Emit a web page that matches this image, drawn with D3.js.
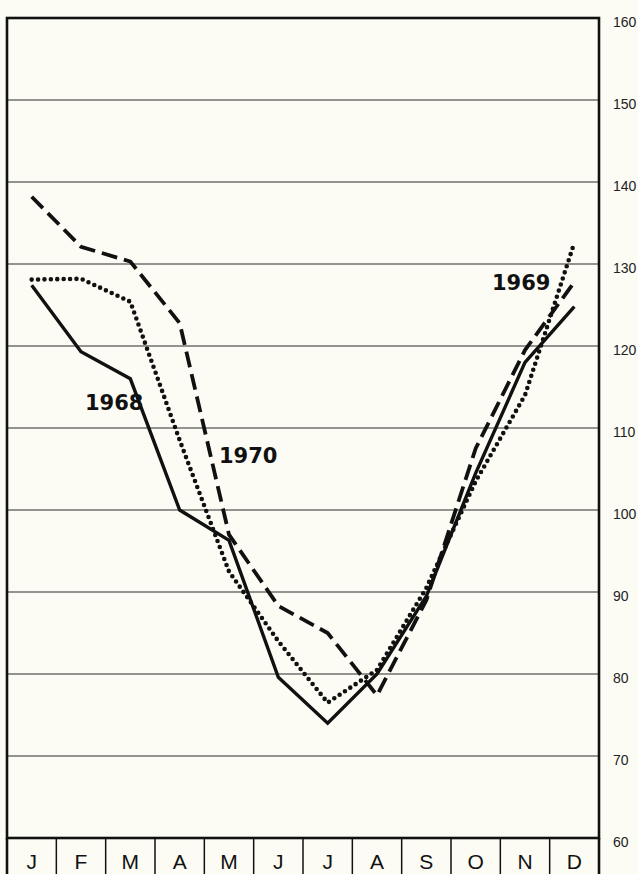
<!DOCTYPE html>
<html>
<head>
<meta charset="utf-8">
<script src="https://cdn.jsdelivr.net/npm/d3@7/dist/d3.min.js"></script>
<style>
  html, body { margin: 0; padding: 0; background: #fcfcf5; }
  svg { display: block; }
</style>
</head>
<body>
<div id="chart"></div>
<script>
const months = ['J', 'F', 'M', 'A', 'M', 'J', 'J', 'A', 'S', 'O', 'N', 'D'];
const yTicks = [60, 70, 80, 90, 100, 110, 120, 130, 140, 150, 160];
const v1968 = [127.4, 119.3, 116, 100, 96.3, 79.6, 74, 80, 89.5, 104.5, 118, 124.8];
const v1969 = [128.1, 128.2, 125.4, 108.5, 92.5, 84, 76.5, 80.5, 90.5, 103.5, 114, 132.6];
const v1970 = [138.2, 132.1, 130.3, 122.8, 97, 88.3, 85, 77.4, 89, 107.5, 119.5, 127.8];

const W = 638, H = 874;
const plotLeft = 7, plotRight = 599, plotTop = 18, plotBottom = 838;

const svg = d3.select('#chart')
  .append('svg')
  .attr('width', W)
  .attr('height', H);

svg.append('rect')
  .attr('width', W)
  .attr('height', H)
  .attr('fill', '#fcfcf5');

// month index scale (band) -> points at the band centres
const idx = d3.range(months.length);
const x = d3.scaleBand().domain(idx).range([plotLeft, plotRight]).padding(0);
const xc = i => x(i) + x.bandwidth() / 2;

const y = d3.scaleLinear().domain([60, 160]).range([plotBottom, plotTop]);

// gridlines
svg.append('g')
  .selectAll('line')
  .data(yTicks.filter(t => t > 60 && t < 160))
  .join('line')
  .attr('x1', plotLeft)
  .attr('x2', plotRight)
  .attr('y1', d => y(d))
  .attr('y2', d => y(d))
  .attr('stroke', '#2a2a2a')
  .attr('stroke-width', 1.1);

// right axis labels
const yAxis = d3.axisRight(y).tickValues(yTicks).tickSize(0).tickPadding(14);
const ga = svg.append('g')
  .attr('transform', `translate(${plotRight}, 4)`)
  .call(yAxis);
ga.select('.domain').remove();
ga.selectAll('text')
  .attr('font-family', 'Liberation Sans, Arial, sans-serif')
  .attr('font-size', 14)
  .attr('fill', '#222');

// frame
svg.append('rect')
  .attr('x', plotLeft)
  .attr('y', plotTop)
  .attr('width', plotRight - plotLeft)
  .attr('height', plotBottom - plotTop)
  .attr('fill', 'none')
  .attr('stroke', '#111')
  .attr('stroke-width', 2.6);

// month row
svg.append('g')
  .selectAll('line')
  .data(idx.concat([12]))
  .join('line')
  .attr('x1', d => d < 12 ? x(d) : plotRight)
  .attr('x2', d => d < 12 ? x(d) : plotRight)
  .attr('y1', plotBottom)
  .attr('y2', H)
  .attr('stroke', '#111')
  .attr('stroke-width', d => (d === 0 || d === 12) ? 2.6 : 1.5);

const xAxis = d3.axisBottom(x).tickFormat(i => months[i]).tickSize(0).tickPadding(0);
const gx = svg.append('g')
  .attr('transform', `translate(0, ${plotBottom + 13})`)
  .call(xAxis);
gx.select('.domain').remove();
gx.selectAll('text')
  .attr('dy', '0.85em')
  .attr('font-family', 'Liberation Sans, Arial, sans-serif')
  .attr('font-size', 21)
  .attr('fill', '#111');

// lines
const line = d3.line()
  .x((d, i) => xc(i))
  .y(d => y(d));

const series = [
  { values: v1968, dash: null, width: 3.4, cap: 'butt' },
  { values: v1970, dash: '16 7', width: 3.8, cap: 'butt' },
  { values: v1969, dash: '0 6.4', width: 4.6, cap: 'round' }
];

svg.append('g')
  .selectAll('path')
  .data(series)
  .join('path')
  .attr('d', d => line(d.values))
  .attr('fill', 'none')
  .attr('stroke', '#111')
  .attr('stroke-width', d => d.width)
  .attr('stroke-dasharray', d => d.dash)
  .attr('stroke-linecap', d => d.cap)
  .attr('stroke-linejoin', 'miter');

// labels
const labels = [
  { text: '1968', x: 85, y: 410 },
  { text: '1970', x: 219, y: 463 },
  { text: '1969', x: 492, y: 290 }
];
svg.append('g')
  .selectAll('text')
  .data(labels)
  .join('text')
  .attr('x', d => d.x)
  .attr('y', d => d.y)
  .text(d => d.text)
  .attr('font-family', 'DejaVu Sans, sans-serif')
  .attr('font-weight', 'bold')
  .attr('font-size', 21)
  .attr('fill', '#111');
</script>
</body>
</html>
